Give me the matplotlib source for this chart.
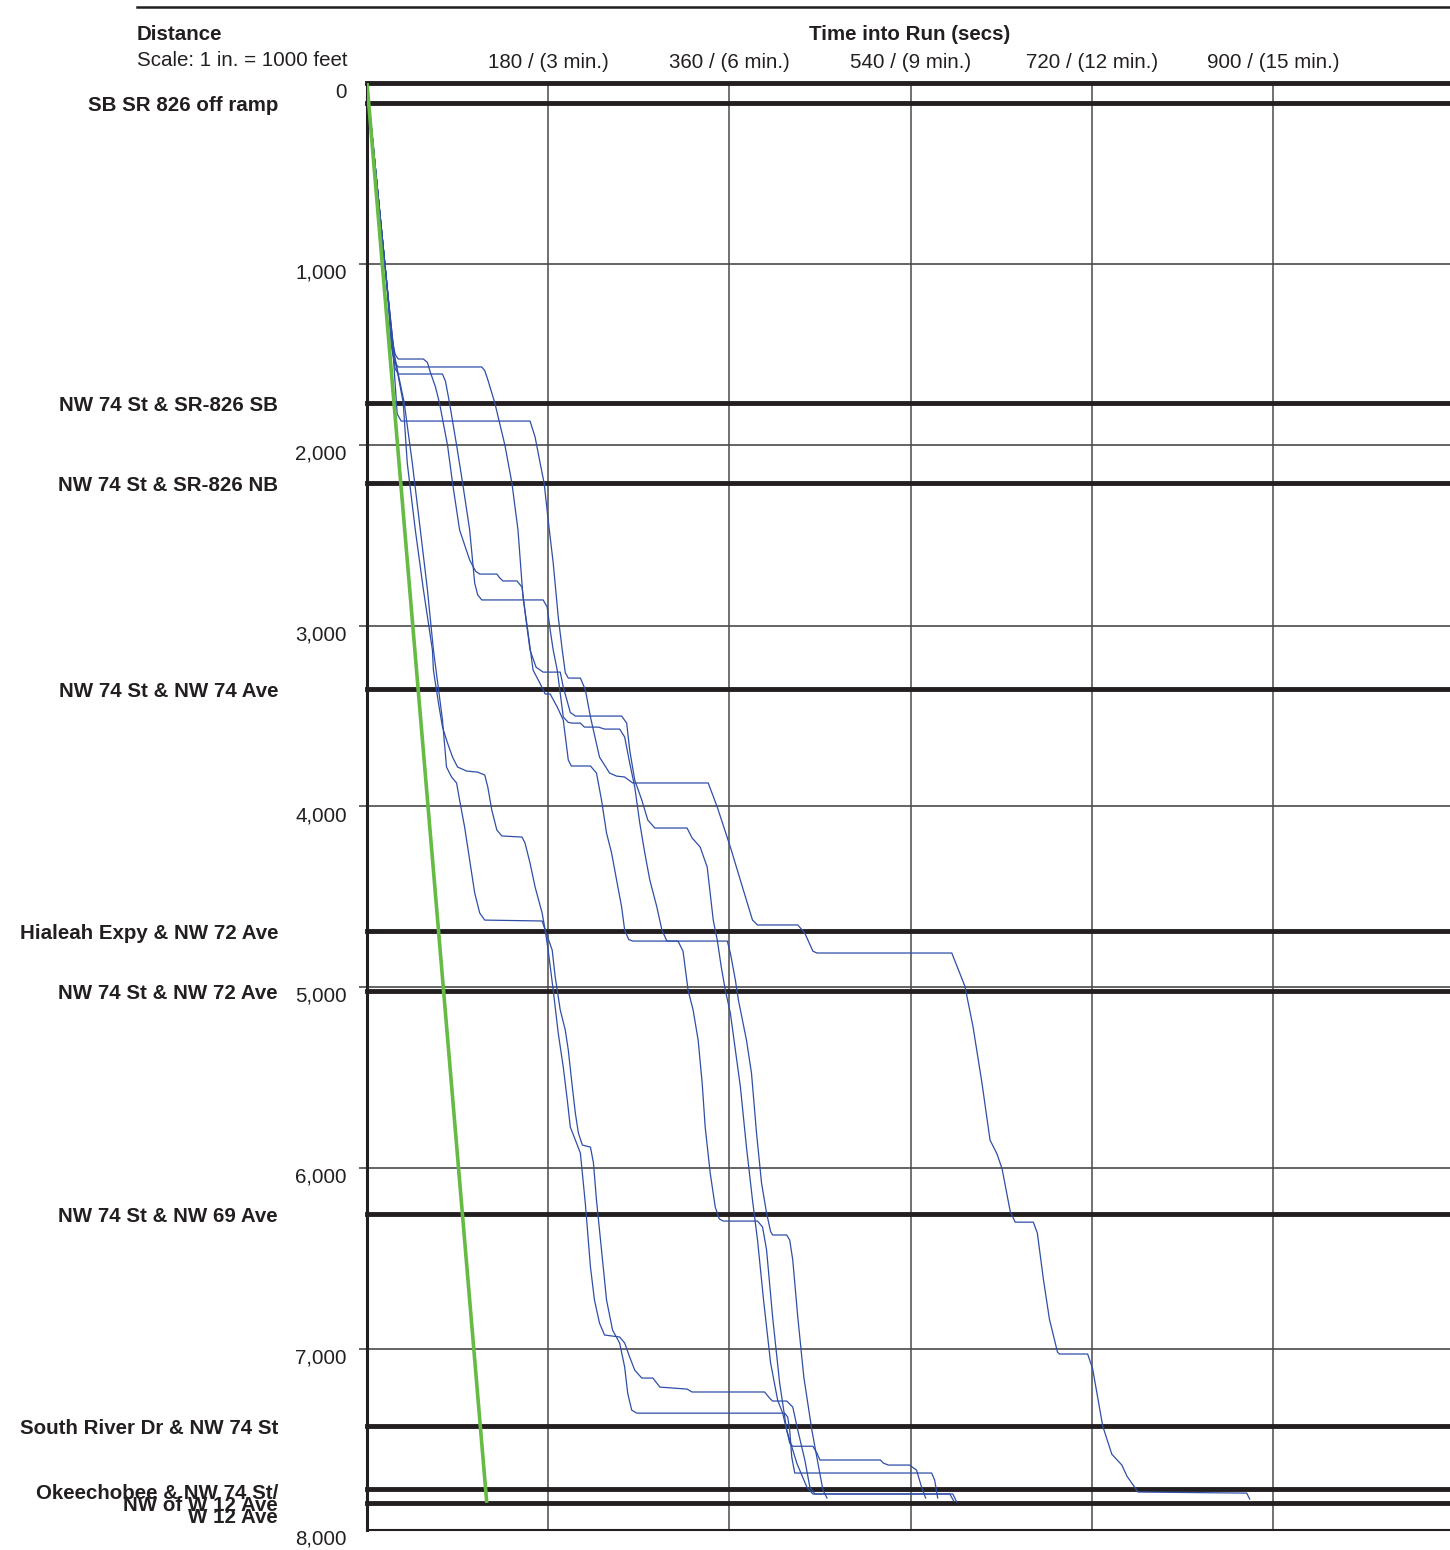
import matplotlib.pyplot as plt
from matplotlib.lines import Line2D

plt.rcParams['font.family'] = ['Liberation Sans', 'DejaVu Sans']

# intersections along the corridor (feet from start)
stop_dist = [0, 110, 1769, 2211, 3350, 4688, 5019, 6252, 7424, 7772, 7850]
label_names = ['SB SR 826 off ramp', 'NW 74 St & SR-826 SB', 'NW 74 St & SR-826 NB',
               'NW 74 St & NW 74 Ave', 'Hialeah Expy & NW 72 Ave', 'NW 74 St & NW 72 Ave',
               'NW 74 St & NW 69 Ave', 'South River Dr & NW 74 St',
               'Okeechobee & NW 74 St/\nW 12 Ave', 'NW of W 12 Ave']
label_dist = [110, 1769, 2211, 3350, 4688, 5019, 6252, 7424, 7850, 7850]

dist_ticks = [0, 1000, 2000, 3000, 4000, 5000, 6000, 7000, 8000]
dist_labels = ['0', '1,000', '2,000', '3,000', '4,000', '5,000', '6,000', '7,000', '8,000']
time_ticks = [180, 360, 540, 720, 900]
time_labels = ['180 / (3 min.)', '360 / (6 min.)', '540 / (9 min.)', '720 / (12 min.)', '900 / (15 min.)']

# free flow / design speed line (secs, feet)
green_run = [(0, 0), (119, 7850)]

# floating car runs (secs, feet)
run_a = [(0, 0), (20, 1128), (26, 1500), (30, 1830), (34, 1869), (162, 1869), (167, 1957), (172, 2101),
         (176, 2212), (180, 2416), (185, 2654), (190, 2952), (194, 3135), (197, 3260), (200, 3290),
         (212, 3290), (217, 3356), (222, 3505), (231, 3727), (241, 3815), (248, 3832), (256, 3837),
         (264, 3870), (339, 3870), (348, 4003), (361, 4224), (373, 4445), (383, 4628), (388, 4655),
         (428, 4655), (435, 4700), (443, 4800), (447, 4810), (581, 4810), (594, 4993), (602, 5214),
         (611, 5529), (619, 5844), (626, 5922), (631, 6004), (639, 6237), (644, 6298), (662, 6298),
         (666, 6358), (672, 6613), (678, 6834), (686, 7016), (688, 7027), (716, 7027), (721, 7110),
         (731, 7426), (740, 7581), (750, 7641), (755, 7702), (766, 7790), (874, 7796), (877, 7829)]

run_b = [(0, 0), (20, 1128), (25, 1420), (28, 1500), (31, 1526), (56, 1526), (60, 1545), (63, 1600),
         (68, 1680), (72, 1769), (80, 2002), (85, 2212), (92, 2471), (102, 2637), (108, 2700),
         (112, 2715), (129, 2715), (132, 2737), (135, 2753), (149, 2753), (154, 2787), (158, 2969),
         (162, 3135), (168, 3230), (175, 3257), (192, 3257), (195, 3340), (202, 3480), (207, 3500),
         (253, 3500), (258, 3539), (261, 3688), (266, 3854), (273, 3964), (279, 4075), (286, 4119),
         (318, 4119), (323, 4174), (331, 4224), (338, 4335), (344, 4628), (348, 4738), (352, 4888),
         (356, 5015), (361, 5142), (366, 5347), (371, 5551), (377, 5883), (383, 6176), (388, 6397),
         (394, 6729), (401, 7077), (408, 7282), (413, 7354), (417, 7448), (420, 7520), (423, 7537),
         (443, 7537), (447, 7575), (450, 7613), (510, 7613), (513, 7630), (518, 7641), (539, 7641),
         (546, 7669), (551, 7763), (555, 7823)]

run_c = [(0, 0), (20, 1128), (24, 1450), (27, 1540), (31, 1570), (114, 1570), (117, 1590), (120, 1640),
         (127, 1769), (137, 2002), (144, 2212), (150, 2471), (155, 2842), (159, 2997), (165, 3246),
         (172, 3320), (177, 3378), (182, 3378), (189, 3450), (195, 3522), (200, 3743), (203, 3776),
         (222, 3776), (228, 3815), (233, 3964), (238, 4147), (243, 4257), (248, 4407), (253, 4556),
         (256, 4683), (260, 4735), (264, 4744), (309, 4744), (314, 4800), (319, 5015), (324, 5125),
         (329, 5291), (333, 5529), (336, 5772), (341, 6027), (346, 6215), (350, 6280), (354, 6292),
         (388, 6292), (393, 6325), (397, 6452), (403, 6823), (410, 7188), (417, 7448), (427, 7630),
         (437, 7763), (443, 7801), (582, 7801), (586, 7846)]

run_d = [(0, 0), (20, 1128), (25, 1450), (28, 1580), (31, 1609), (75, 1609), (78, 1650), (82, 1769),
         (89, 2002), (95, 2212), (102, 2471), (107, 2765), (110, 2830), (114, 2858), (175, 2858),
         (179, 2897), (182, 3024), (185, 3135), (189, 3246), (195, 3505), (200, 3535), (204, 3539),
         (212, 3539), (216, 3561), (230, 3561), (236, 3572), (251, 3572), (256, 3616), (261, 3760),
         (266, 3892), (271, 4091), (276, 4257), (281, 4407), (288, 4556), (293, 4683), (298, 4744),
         (358, 4744), (361, 4810), (366, 4960), (369, 5070), (377, 5291), (382, 5474), (387, 5805),
         (392, 6082), (397, 6248), (401, 6350), (403, 6369), (417, 6369), (420, 6397), (423, 6507),
         (428, 6823), (434, 7155), (442, 7448), (448, 7630), (453, 7779), (457, 7823)]

run_e = [(0, 0), (20, 1128), (27, 1500), (36, 1769), (40, 2101), (48, 2471), (56, 2800), (65, 3135),
         (66, 3246), (71, 3428), (75, 3561), (80, 3649), (85, 3727), (90, 3782), (99, 3804), (110, 3810),
         (117, 3826), (120, 3892), (124, 4020), (129, 4130), (134, 4163), (154, 4169), (157, 4202),
         (162, 4313), (167, 4445), (174, 4589), (177, 4683), (180, 4794), (185, 5015), (190, 5253),
         (195, 5441), (199, 5623), (202, 5772), (207, 5844), (212, 5916), (217, 6200), (222, 6546),
         (226, 6729), (231, 6856), (236, 6922), (251, 6933), (256, 6966), (261, 7044), (266, 7116),
         (273, 7160), (284, 7160), (291, 7210), (318, 7221), (323, 7237), (395, 7237), (400, 7271),
         (403, 7287), (417, 7287), (423, 7320), (428, 7448), (435, 7613), (440, 7763), (445, 7801),
         (579, 7801), (583, 7840)]

run_f = [(0, 0), (20, 1128), (27, 1500), (37, 1769), (45, 2101), (53, 2471), (60, 2800), (66, 3135),
         (75, 3522), (79, 3782), (84, 3837), (89, 3870), (92, 3964), (97, 4114), (102, 4296),
         (107, 4478), (112, 4589), (117, 4628), (174, 4633), (177, 4683), (184, 4794), (187, 4943),
         (189, 5015), (192, 5125), (197, 5236), (200, 5347), (204, 5551), (207, 5695), (210, 5805),
         (214, 5872), (222, 5883), (225, 5971), (228, 6176), (233, 6452), (238, 6729), (244, 6895),
         (251, 6966), (256, 7099), (259, 7243), (263, 7337), (268, 7354), (415, 7354), (418, 7376),
         (420, 7448), (422, 7597), (425, 7685), (561, 7685), (564, 7724), (567, 7823)]

runs = [run_a, run_b, run_c, run_d, run_e, run_f]

ink = '#231f20'
fs = 14.8
fig = plt.figure(figsize=(14.5, 15.5), dpi=100)
ax = fig.add_axes([367 / 1450, 1 - 1530 / 1550, 1083 / 1450, 1447 / 1550])
ax.set_xlim(0, 1076)
ax.set_ylim(8000, 0)
for side in ['top', 'right']:
    ax.spines[side].set_visible(False)
ax.spines['left'].set_linewidth(2.2)
ax.spines['left'].set_color(ink)
ax.spines['bottom'].set_linewidth(1.5)
ax.spines['bottom'].set_color(ink)
ax.set_xticks([])
ax.set_yticks([])

# thin grid
ax.hlines(dist_ticks[1:-1], -8, 1076, color='#3a3a3a', lw=1.1, zorder=1, clip_on=False)
for t in time_ticks:
    ax.axvline(t, color='#4a4a4a', lw=1.1, zorder=1)

# intersection lines
for d in stop_dist:
    ax.axhline(d, color=ink, lw=3.5, zorder=2, clip_on=False)

# runs
for run in runs:
    t, d = zip(*run)
    ax.plot(t, d, color='#2f4ea8', lw=0.9, zorder=3)
gt, gd = zip(*green_run)
ax.plot(gt, gd, color='#66bb44', lw=2.6, zorder=4, solid_capstyle='butt')

# distance tick labels
for d, lab in zip(dist_ticks, dist_labels):
    ax.annotate(lab, xy=(0, d), xycoords=('axes fraction', 'data'), xytext=(-14.5, -6.5),
                textcoords='offset points', ha='right', va='center', fontsize=fs, color=ink)

# intersection labels (the last two overlap, as in the source chart)
for d, lab in zip(label_dist, label_names):
    ax.annotate(lab, xy=(0, d), xycoords=('axes fraction', 'data'), xytext=(-64, -2),
                textcoords='offset points', ha='right', va='center', fontsize=fs,
                fontweight='bold', color=ink, linespacing=1.3)

# time tick labels
for t, lab in zip(time_ticks, time_labels):
    ax.annotate(lab, xy=(t, 0), xycoords='data', xytext=(0, 15), textcoords='offset points',
                ha='center', va='center', fontsize=fs, color=ink, annotation_clip=False)

# headers
fig.text(137 / 1450, 1 - 34 / 1550, 'Distance', fontsize=fs, fontweight='bold', color=ink,
         ha='left', va='center')
fig.text(137 / 1450, 1 - 60 / 1550, 'Scale: 1 in. = 1000 feet', fontsize=fs, color=ink,
         ha='left', va='center')
fig.text(910 / 1450, 1 - 34 / 1550, 'Time into Run (secs)', fontsize=fs, fontweight='bold',
         color=ink, ha='center', va='center')
fig.add_artist(Line2D([137 / 1450, 1], [1 - 7 / 1550, 1 - 7 / 1550], color=ink, lw=1.8))

fig.savefig('out.png', dpi=100)
